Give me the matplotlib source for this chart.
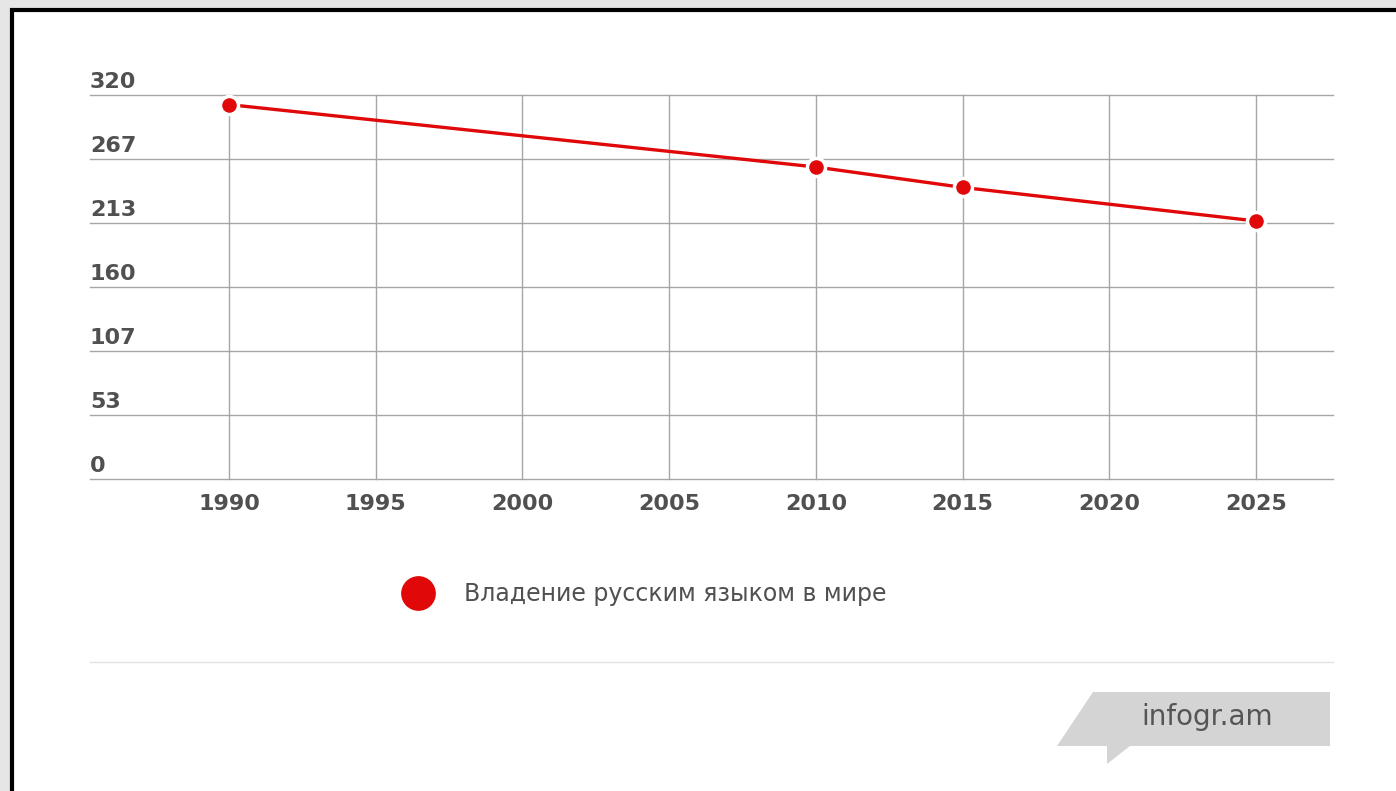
import matplotlib
matplotlib.use('Agg')
import matplotlib.pyplot as plt
from matplotlib.lines import Line2D
from matplotlib.patches import Rectangle, Polygon
import matplotlib.transforms as mtransforms

# data
years = [1990, 2010, 2015, 2025]
speakers = [312, 260, 243, 215]
x_ticks = [1990, 1995, 2000, 2005, 2010, 2015, 2020, 2025]
y_ticks = [0, 53.33, 106.67, 160, 213.33, 266.67, 320]
y_labels = ["0", "53", "107", "160", "213", "267", "320"]
series_label = "Владение русским языком в мире"
brand = "infogr.am"

W, H = 1396, 791
RED = '#e00808'
TXT = '#505050'

fig = plt.figure(figsize=(W / 100, H / 100), dpi=100, facecolor='#e6e6e6')

# white card with black frame
fig.add_artist(Rectangle((12 / W, -0.02), 1.05, 1 - 9.5 / H + 0.02,
                         transform=fig.transFigure, facecolor='white',
                         edgecolor='black', lw=3, zorder=0))

ax = fig.add_axes([90 / W, 312 / H, 1243 / W, 384 / H])
ax.set_facecolor('none')
ax.set_xlim(1985.263, 2027.624)
ax.set_ylim(0, 320)
for s in ax.spines.values():
    s.set_visible(False)

ax.set_xticks(x_ticks)
ax.set_xticklabels([str(x) for x in x_ticks])
ax.set_yticks(y_ticks)
ax.tick_params(axis='both', length=0)
ax.tick_params(axis='x', pad=11, labelsize=16, labelcolor=TXT)
for lab in ax.get_xticklabels():
    lab.set_fontweight('bold')
ax.set_yticklabels([])
ax.grid(True, color='#a6a6a6', lw=1)
ax.set_axisbelow(True)
for gl in ax.get_ygridlines() + ax.get_xgridlines():
    gl.set_clip_on(False)

trans = mtransforms.blended_transform_factory(ax.transAxes, ax.transData)
for v, lab in zip(y_ticks, y_labels):
    ax.annotate(lab, (0, v), xycoords=trans, xytext=(0, 5), textcoords='offset points',
                ha='left', va='baseline', fontsize=16, fontweight='bold', color=TXT)

ax.plot(years, speakers, color=RED, lw=2.4, marker='o', ms=13,
        markerfacecolor=RED, markeredgecolor='white', markeredgewidth=2.5,
        clip_on=False, zorder=3, label=series_label)

# legend
handle = Line2D([], [], ls='none', marker='o', ms=25, color=RED, mew=0)
fig.legend(handles=[handle], labels=[series_label], loc='center left',
           bbox_to_anchor=(406 / W, 1 - 594 / H), frameon=False,
           borderpad=0, borderaxespad=0, handlelength=1.0, handletextpad=1.45,
           prop={'size': 17}, labelcolor=TXT)

# separator
fig.add_artist(Line2D([90 / W, 1333 / W], [1 - 662 / H] * 2, color='#e2e2e2', lw=1))

# infogr.am tag
pts = [(1093, 692), (1330, 692), (1330, 746), (1130, 746), (1107, 764),
       (1107, 746), (1057, 746)]
fig.add_artist(Polygon([(x / W, 1 - y / H) for x, y in pts], closed=True,
                       transform=fig.transFigure, facecolor='#d4d4d4', edgecolor='none'))
fig.text(1207 / W, 1 - 717 / H, brand, ha='center', va='center', fontsize=20, color='#555555')

fig.savefig('out.png', dpi=100, facecolor=fig.get_facecolor())
